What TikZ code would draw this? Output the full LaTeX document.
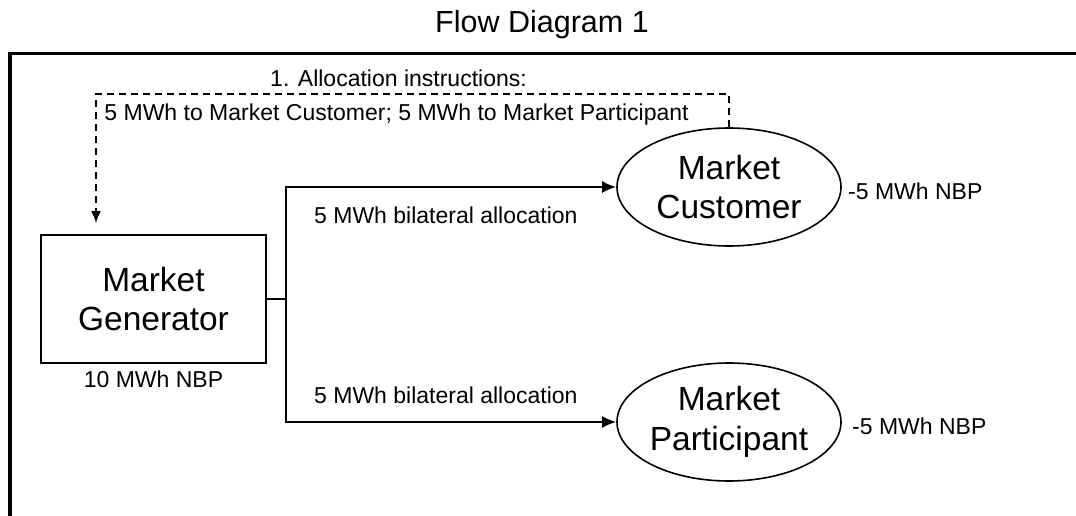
\documentclass[tikz,border=0pt]{standalone}
\usepackage{fontspec}
\setmainfont{Liberation Sans}
\usetikzlibrary{arrows.meta,shapes.geometric}
\begin{document}
\begin{tikzpicture}[x=1pt,y=-1pt,
  lbl/.style={inner sep=0pt, font=\fontsize{23}{27.5}\selectfont},
  ttl/.style={inner sep=0pt, font=\fontsize{30.5}{37}\selectfont},
  big/.style={font=\fontsize{33.5}{39.5}\selectfont, align=center},
  conn/.style={line width=2pt},
  arr/.style={conn, -{Latex[length=14pt,width=12pt]}},
  dasharr/.style={line width=1.8pt, dash pattern=on 7pt off 5pt, -{Latex[length=12pt,width=10pt]}},
  framestyle/.style={line width=3.5pt},
  genbox/.style={draw, line width=2pt, minimum width=225pt, minimum height=128pt, inner sep=0pt, big},
  oval/.style={draw, ellipse, line width=1.6pt, minimum width=224pt, minimum height=118pt, inner sep=0pt, big}]
\useasboundingbox (0,0) rectangle (1076,516);
% frame
\draw[framestyle] (10,516) |- (1076,53.5);
% title
\node[ttl, anchor=base] (title) at (542,33) {Flow Diagram 1};
% main nodes
\node[genbox] (gen) at (153.5,299) {Market\\Generator};
\node[oval] (cust) at (729,187) {Market\\Customer};
\node[oval] (part) at (729,422) {Market\\Participant};
% helper coordinates
\coordinate (split) at (286,299);
\coordinate (genin) at (96,223);
% connectors
\draw[conn] (gen.east) -- (split);
\draw[arr] (split) |- (cust.west);
\draw[arr] (split) |- (part.west);
\draw[dasharr] (cust.north) -- ++(0,-33) -| (genin);
% labels
\node[lbl, anchor=base] (inst1) at (398.5,87) {1. Allocation instructions:};
\node[lbl, anchor=base] (inst2) at (396.5,121) {5 MWh to Market Customer; 5 MWh to Market Participant};
\node[lbl, anchor=base west] (bil1) at (314,223) {5 MWh bilateral allocation};
\node[lbl, anchor=base west] (bil2) at (314,403) {5 MWh bilateral allocation};
\node[lbl, anchor=base] (gennbp) at (153.5,387) {10 MWh NBP};
\node[lbl, anchor=base west] (custnbp) at (848,199) {-5 MWh NBP};
\node[lbl, anchor=base west] (partnbp) at (852,434) {-5 MWh NBP};
\end{tikzpicture}
\end{document}
